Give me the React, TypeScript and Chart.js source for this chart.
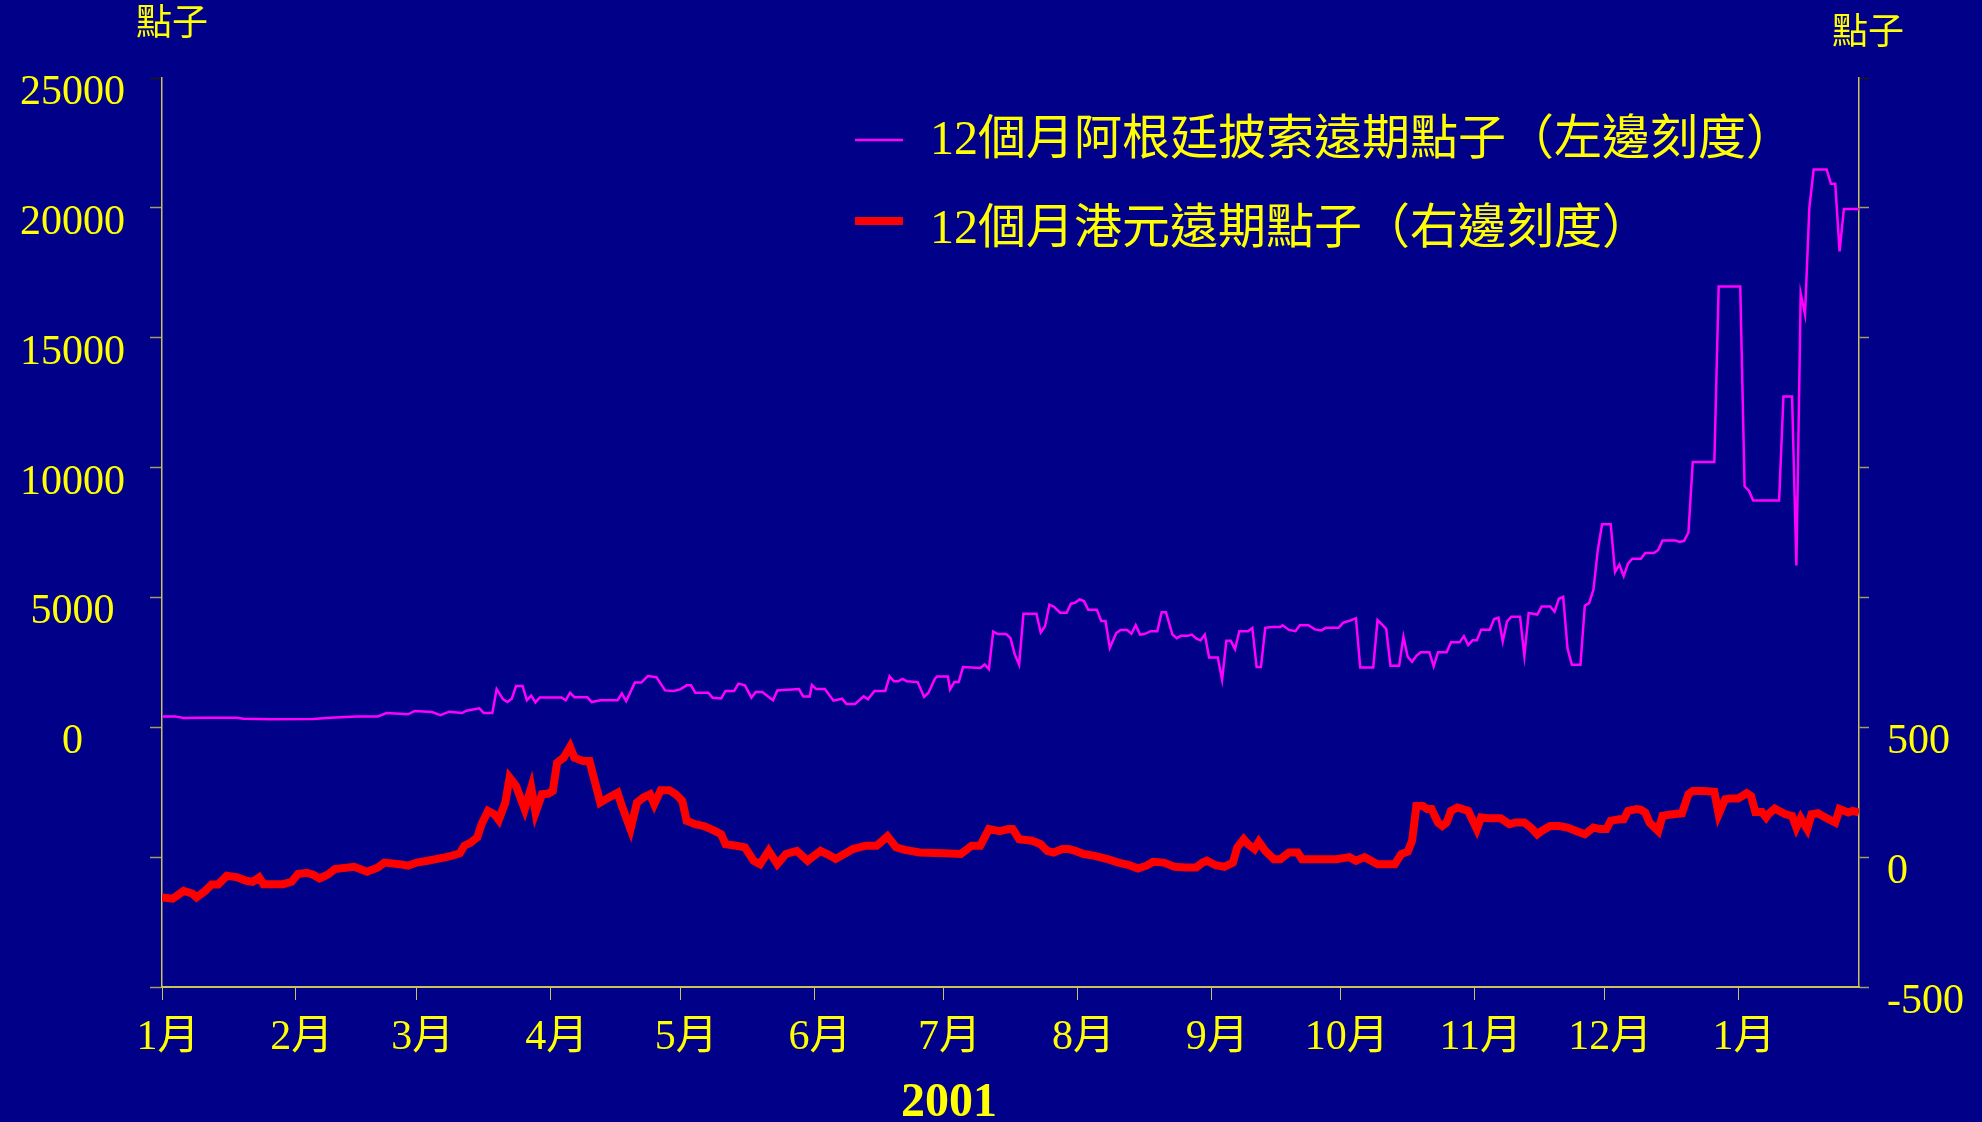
import React, { useEffect, useRef } from 'react';
import { Chart, registerables } from 'chart.js';

Chart.register(...registerables);

// ---- Data (x = days since 1 Jan 2001) ----
const monthTickDays = [0, 31, 59, 90, 120, 151, 181, 212, 243, 273, 304, 334, 365];
const monthTickLabels = ['1月', '2月', '3月', '4月', '5月', '6月', '7月', '8月', '9月', '10月', '11月', '12月', '1月'];

const seriesLabels = ['12個月阿根廷披索遠期點子（左邊刻度）', '12個月港元遠期點子（右邊刻度）'];
const unitLabel = '點子';
const yearLabel = '2001';

// Argentine peso 12-month forward points (left scale)
const argDays = [
  0, 3, 5, 10, 17, 19, 25, 35, 39, 45, 50, 52, 57, 58.5, 62.5, 64.5, 66.5, 69.5, 70.5, 73.5, 74.5, 76.5,
  77.5, 79, 80, 81, 82, 83.5, 84.5, 85.5, 86.5, 87.5, 92.5, 93.5, 94.5, 95.5, 98.5, 99.5, 101.5, 105.5,
  106.5, 107.5, 109.5, 111, 112.5, 114.5, 116.5, 118.5, 120, 121.5, 122.5, 123.5, 126.5, 127.5, 129.5,
  130.5, 132.5, 133.5, 135, 136.5, 137.5, 139, 141.5, 142.5, 147.5, 148.5, 150, 150.5, 151.5, 153.5,
  155.5, 157.5, 158.5, 160.5, 162.5, 163.5, 165, 167.5, 168.5, 169.5, 170.5, 171.5, 172.5, 175, 176.5,
  177.5, 179, 179.5, 182, 182.5, 183.5, 184.5, 185.5, 189.5, 190.5, 191.5, 192.5, 193.5, 195.5, 196.5,
  197.5, 198.5, 199.5, 202.5, 203.5, 204.5, 205.5, 206.5, 208, 209.5, 210.5, 211.5, 212.5, 213.5, 214.5,
  216.5, 217.5, 218.5, 219.5, 221, 222, 223.5, 224.5, 225.5, 226.5, 227.5, 229, 230.5, 231.5, 232.5,
  234, 235, 236, 237.5, 238.5, 239.5, 240.5, 241.5, 242.5, 244.5, 245.5, 246.5, 247.5, 248.5, 249.5,
  251.5, 252.5, 253.5, 254.5, 255.5, 257, 259, 259.5, 261, 262.5, 263.5, 265.5, 267, 268.5, 269.5,
  272.5, 273.5, 275, 276.5, 277.5, 280.5, 281.5, 282.5, 283.5, 284.5, 286.5, 287.5, 288.5, 289.5, 290.5,
  291.5, 293.5, 294.5, 295.5, 297.5, 298.5, 300.5, 301.5, 302.5, 303.5, 304.5, 305.5, 307.5, 308.5,
  309.5, 310.5, 311.5, 312.5, 314.5, 315.5, 316.5, 318.5, 319.5, 321.5, 322.5, 323.5, 324.5, 325.5,
  326.5, 328.5, 329.5, 330.5, 331.5, 332.5, 333.5, 335.5, 336.5, 337.5, 338.5, 339.5, 340.5, 342.5,
  343.5, 345.5, 346.5, 347.5, 350.5, 351.5, 352.5, 353.5, 354.5, 359.5, 360.5, 365.5, 366.5, 367.5,
  368.5, 374.5, 375.5, 377.5, 378.5, 379.5, 380.5, 381.5, 382.5, 385.5, 386.5, 387.5, 388.5, 389.5, 393,
];
const argValues = [
  420, 420, 360, 370, 370, 330, 310, 320, 370, 420, 420, 550, 500, 630, 590, 470, 600, 550, 640, 730, 550, 550,
  1470, 1075, 970, 1100, 1590, 1590, 1040, 1220, 960, 1150, 1150, 1040, 1330, 1160, 1160, 970, 1040, 1040,
  1300, 1010, 1720, 1720, 1970, 1930, 1420, 1400, 1460, 1615, 1615, 1330, 1330, 1140, 1110,
  1400, 1400, 1680, 1615, 1140, 1360, 1360, 1040, 1420, 1470, 1190, 1190, 1630, 1470, 1470,
  1025, 1100, 900, 900, 1190, 1080, 1400, 1400, 1960, 1770, 1770, 1860, 1770, 1740, 1170,
  1330, 1870, 1960, 1960, 1460, 1740, 1740, 2320, 2280, 2420, 2240, 3690, 3590, 3590, 3430,
  2800, 2410, 4370, 4370, 3650, 3890, 4720, 4650, 4410, 4410, 4760, 4800, 4920, 4860, 4530,
  4530, 4090, 4090, 3060, 3630, 3750, 3750, 3600, 3930, 3570, 3590, 3700, 3700, 4430, 4430,
  3570, 3430, 3520, 3520, 3570, 3420, 3340, 3570, 2690, 2690, 1830, 3330, 3330, 3010, 3700,
  3700, 3820, 2320, 2320, 3830, 3860, 3860, 3930, 3750, 3700, 3930, 3930, 3770, 3730, 3830,
  3830, 4020, 4100, 4200, 2300, 2300, 4130, 3960, 3790, 2370, 2370, 3480, 2710, 2520, 2750,
  2890, 2890, 2350, 2890, 2890, 3270, 3270, 3510, 3170, 3350, 3350, 3760, 3760, 4170,
  4220, 3310, 4080, 4260, 4260, 2750, 4400, 4340, 4650, 4650, 4450, 4950, 5020, 3030,
  2410, 2410, 4680, 4780, 5300, 6810, 7820, 7820, 5980, 6260, 5820, 6300, 6490, 6490,
  6710, 6710, 6830, 7190, 7190, 7140, 7180, 7500, 10210, 10210, 16970, 16970, 9280, 9110,
  8730, 8730, 12740, 12740, 6230, 16700, 15900, 20000, 21480, 21480, 20930, 20930, 18320, 19960, 19960,
];

// Hong Kong dollar 12-month forward points (right scale)
const hkdDays = [
  0, 2.5, 5, 7, 8, 10, 11.5, 13, 15, 17.5, 19.5, 21, 22.5, 23.5, 25, 28, 30, 31.5, 33.5, 35, 36.5, 38.5,
  40, 44.5, 47.5, 50, 51.5, 55, 57, 59, 61.5, 65.5, 67, 69, 70, 71.5, 73, 74, 75.5, 77, 78, 79.5, 80.5,
  82, 84, 85.5, 86.5, 88, 89.5, 90.5, 91.5, 93, 94.5, 95.5, 97.5, 99, 100.5, 101.5, 103.5, 105.5, 106.5,
  108.5, 110, 111.5, 113, 114, 115.5, 117.5, 119, 120.5, 121.5, 123.5, 125.5, 128, 129.5, 130.5, 133,
  135, 137, 138.5, 140.5, 142.5, 144.5, 147, 149.5, 152.5, 154.5, 156, 158, 160, 163, 165.5, 168, 170,
  172, 175.5, 181, 185, 186.5, 187.5, 189.5, 191.5, 194, 196, 197, 198.5, 201.5, 203.5, 205, 206.5,
  208.5, 210, 211.5, 213.5, 216, 219, 221.5, 224, 226, 228, 229.5, 232, 234.5, 237, 239.5, 241, 242,
  244, 246, 248, 249, 250.5, 251.5, 253, 254, 255.5, 257.5, 259, 261, 263, 264, 272, 275, 276.5, 278.5,
  281.5, 285.5, 287, 288.5, 289.5, 290.5, 292, 293, 294, 295.5, 296.5, 297.5, 298.5, 300, 302.5, 304.5,
  305.5, 307, 308.5, 310, 312, 313.5, 315.5, 317, 318.5, 319.5, 321.5, 323.5, 325.5, 327.5, 329.5,
  330.5, 331.5, 333, 334.5, 335.5, 337.5, 338.5, 339.5, 341.5, 342.5, 343.5, 344.5, 346.5, 347.5, 349,
  350, 352, 353.5, 354.5, 357, 359.5, 360.5, 362, 363, 365, 367, 368, 369, 370.5, 371.5, 372, 373.5,
  374.5, 376, 377.5, 378.5, 379.5, 381, 382, 383.5, 384.5, 386, 387.5, 388.5, 390.5, 391.5, 393,
];
const hkdValues = [
  -155, -160, -130, -140, -155, -130, -105, -105, -72, -78, -91, -95, -78, -104, -104, -104, -95, -65, -60, -68, -82, -66,
  -46, -37, -56, -40, -21, -27, -33, -21, -14, -1, 5, 15, 44, 56, 76, 127, 178, 165, 143, 210, 306,
  274, 185, 268, 172, 242, 245, 255, 364, 383, 425, 383, 370, 370, 274, 210, 230, 248, 197,
  108, 210, 230, 242, 204, 258, 258, 242, 216, 140, 127, 120, 101, 88, 50, 44,
  38, -14, -27, 24, -27, 12, 24, -14, 24, 8, -7, 12, 31, 44, 44, 80, 38,
  28, 18, 15, 12, 31, 44, 44, 108, 100, 108, 108, 69, 63, 50, 24, 18,
  31, 31, 24, 12, 5, -8, -21, -31, -44, -33, -18, -21, -37, -40, -40, -21, -14,
  -31, -37, -21, 37, 69, 50, 31, 59, 24, -8, -8, 18, 18, -8, -8, 0, -14, 0,
  -27, -27, 12, 21, 63, 197, 197, 185, 185, 133, 120, 133, 178, 191, 178, 108,
  153, 150, 150, 150, 127, 133, 133, 114, 88, 101, 120, 120, 114, 101, 88,
  101, 114, 108, 108, 140, 146, 146, 178, 185, 182, 172, 133, 101, 159, 163,
  165, 169, 242, 255, 255, 252, 165, 223, 226, 226, 246, 235, 174, 174, 153, 165, 187,
  178, 165, 159, 114, 150, 108, 165, 169, 159, 146, 133, 185, 172, 178, 172,
];

const leftMin = -10000;
const leftMax = 25000;
const leftStep = 5000;
const rightMin = -500;
const rightMax = 3000;
const rightStep = 500;
const xMax = 393;

const FONT = '"Liberation Serif", "Noto Sans CJK TC", serif';
const YELLOW = '#ffff00';
const AXIS = '#c8c45a';
const TICK = '#a09c6a';
const BG = '#000088';

const textPlugin = {
  id: 'slideText',
  afterDraw(chart: any) {
    const ctx = chart.ctx;
    ctx.save();
    ctx.fillStyle = YELLOW;
    ctx.textAlign = 'left';
    ctx.textBaseline = 'top';
    ctx.font = `36px ${FONT}`;
    ctx.fillText(unitLabel, 136, 8);
    ctx.fillText(unitLabel, 1832, 17);

    ctx.font = `bold 48px ${FONT}`;
    ctx.textAlign = 'center';
    ctx.textBaseline = 'middle';
    ctx.fillText(yearLabel, 949, 1104);

    chart.data.datasets.forEach((ds: any, i: number) => {
      const ly = 140 + i * 81;
      ctx.strokeStyle = ds.borderColor;
      ctx.lineWidth = ds.borderWidth;
      ctx.lineCap = 'butt';
      ctx.beginPath();
      ctx.moveTo(855, ly);
      ctx.lineTo(903, ly);
      ctx.stroke();
      ctx.fillStyle = YELLOW;
      ctx.font = `48px ${FONT}`;
      ctx.textAlign = 'left';
      ctx.textBaseline = 'middle';
      ctx.fillText(ds.label, 930, 141 + i * 89);
    });
    ctx.restore();
  },
};

export default function App() {
  const canvasRef = useRef<HTMLCanvasElement | null>(null);

  useEffect(() => {
    document.body.style.margin = '0';
    document.body.style.background = BG;
    const canvas = canvasRef.current;
    if (!canvas) return;

    const argData = argDays.map((d, i) => ({ x: d, y: argValues[i] }));
    const hkdData = hkdDays.map((d, i) => ({ x: d, y: hkdValues[i] }));

    const chart = new Chart(canvas, {
      type: 'line',
      data: {
        datasets: [
          {
            label: seriesLabels[0],
            data: argData,
            borderColor: '#ff00ff',
            borderWidth: 2.5,
            pointRadius: 0,
            tension: 0,
            yAxisID: 'yL',
          },
          {
            label: seriesLabels[1],
            data: hkdData,
            borderColor: '#ff0000',
            borderWidth: 8,
            pointRadius: 0,
            tension: 0,
            borderJoinStyle: 'miter',
            yAxisID: 'yR',
          },
        ],
      },
      options: {
        animation: false,
        responsive: false,
        devicePixelRatio: 1,
        layout: { padding: { top: 78, left: 0, right: 0, bottom: 0 } },
        plugins: {
          legend: { display: false },
          tooltip: { enabled: false },
        },
        scales: {
          x: {
            type: 'linear',
            min: 0,
            max: xMax,
            afterBuildTicks: (scale: any) => {
              scale.ticks = monthTickDays.map((v) => ({ value: v }));
            },
            afterFit: (scale: any) => {
              scale.height = 135;
            },
            ticks: {
              autoSkip: false,
              maxRotation: 0,
              color: YELLOW,
              padding: 13,
              labelOffset: 6,
              font: { family: FONT, size: 42 },
              callback: (_v: any, i: number) => monthTickLabels[i],
            },
            grid: {
              drawOnChartArea: false,
              drawTicks: true,
              tickLength: 13,
              tickColor: AXIS,
              tickWidth: 1,
            },
            border: { display: true, color: AXIS, width: 2 },
          },
          yL: {
            type: 'linear',
            position: 'left',
            min: leftMin,
            max: leftMax,
            afterFit: (scale: any) => {
              scale.width = 162;
            },
            ticks: {
              stepSize: leftStep,
              color: YELLOW,
              padding: 25,
              crossAlign: 'center',
              labelOffset: 15,
              font: { family: FONT, size: 42 },
              callback: (v: any) => (v < 0 ? '' : String(v)),
            },
            grid: {
              drawOnChartArea: false,
              drawTicks: true,
              tickLength: 12,
              tickWidth: 1.5,
              tickColor: (c: any) => (c.tick && c.tick.value === leftMax ? '#1a1a1a' : TICK),
            },
            border: { display: true, color: AXIS, width: 1.5 },
          },
          yR: {
            type: 'linear',
            position: 'right',
            min: rightMin,
            max: rightMax,
            afterFit: (scale: any) => {
              scale.width = 123;
            },
            ticks: {
              stepSize: rightStep,
              color: YELLOW,
              padding: 18,
              labelOffset: 15,
              font: { family: FONT, size: 42 },
              callback: (v: any) => (v <= 500 ? String(v) : ''),
            },
            grid: {
              drawOnChartArea: false,
              drawTicks: true,
              tickLength: 10,
              tickWidth: 1.5,
              tickColor: (c: any) => (c.tick && c.tick.value === rightMax ? '#1a1a1a' : TICK),
            },
            border: { display: true, color: AXIS, width: 1.5 },
          },
        },
      },
      plugins: [textPlugin],
    } as any);

    return () => {
      chart.destroy();
    };
  }, []);

  return (
    <div style={{ width: 1982, height: 1122, background: BG, position: 'relative', overflow: 'hidden' }}>
      <canvas ref={canvasRef} width={1982} height={1122} style={{ display: 'block', width: 1982, height: 1122 }} />
    </div>
  );
}
